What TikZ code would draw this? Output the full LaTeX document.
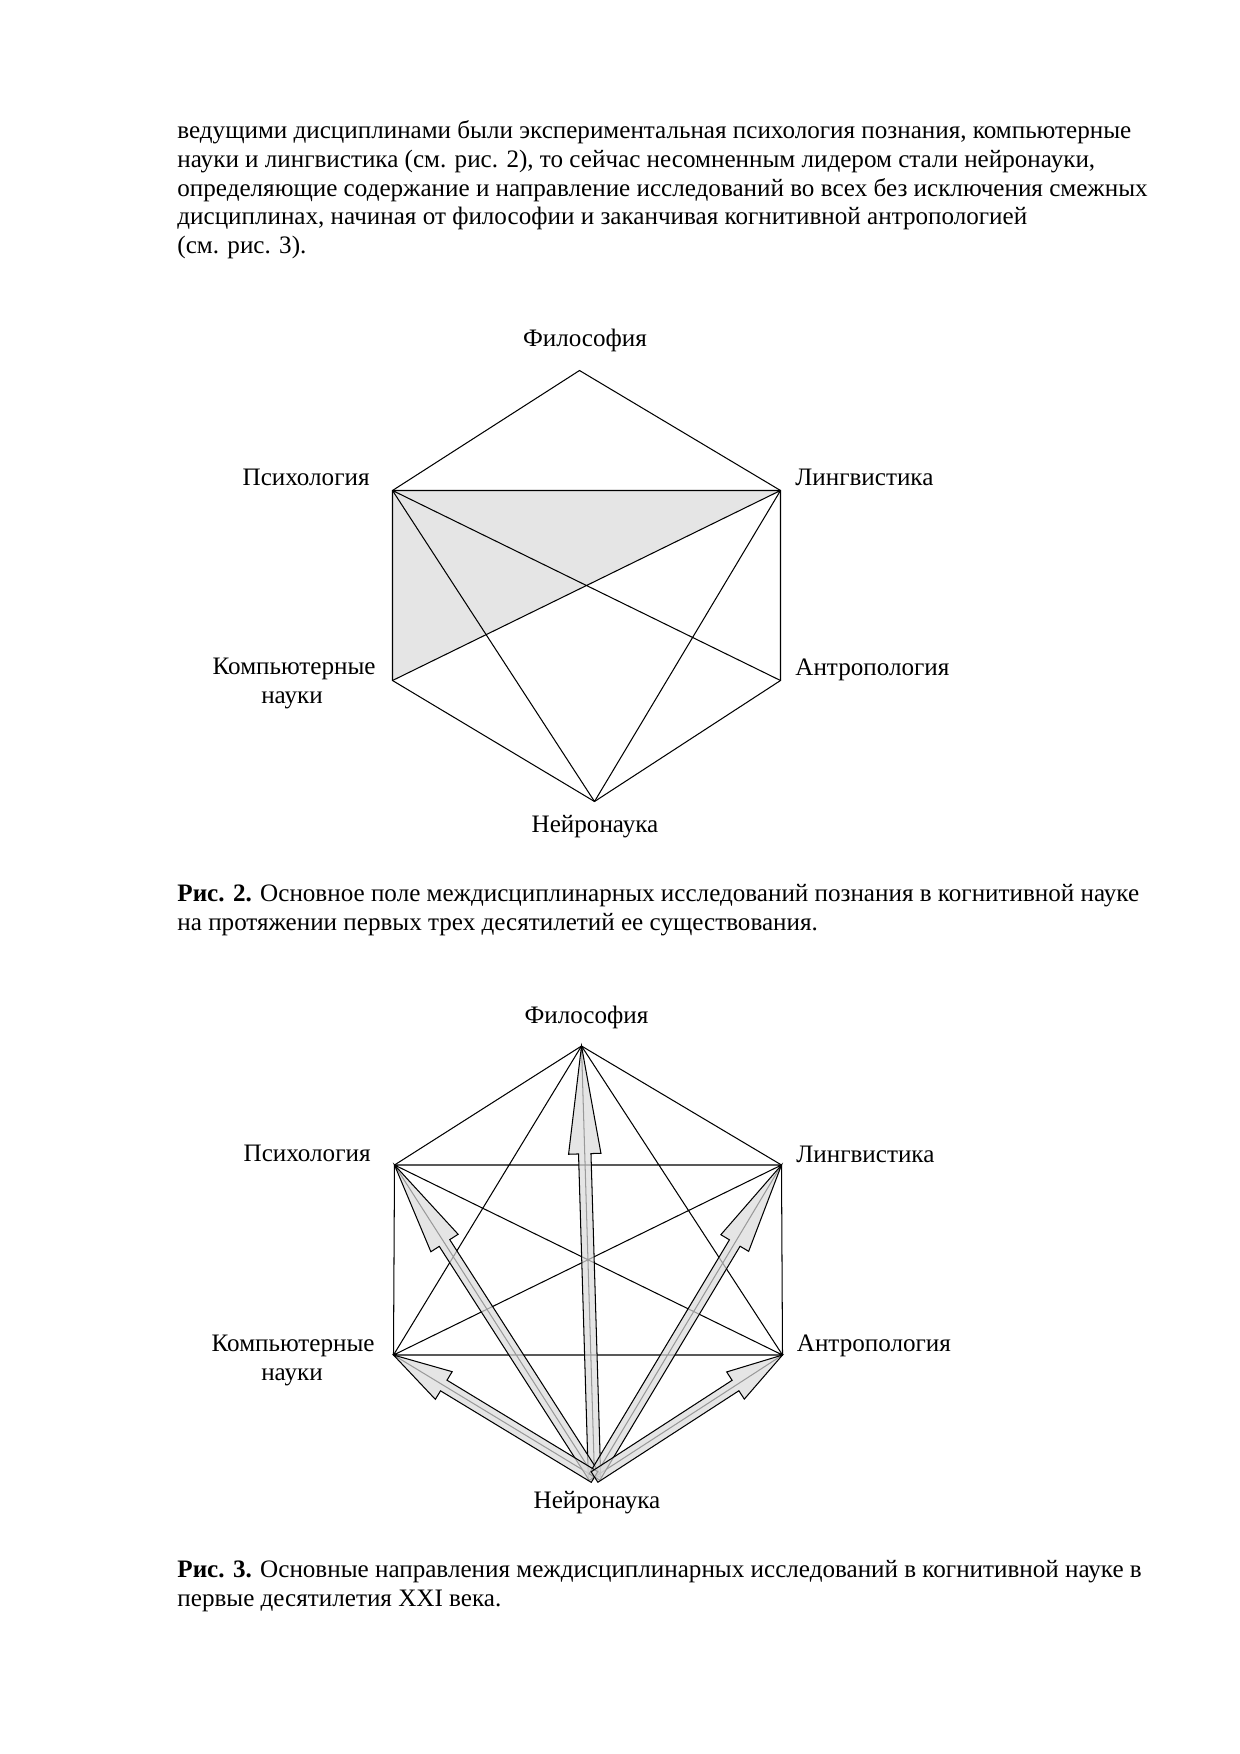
\documentclass[tikz,border=0pt]{standalone}
\usepackage{fontspec}
\setmainfont{Liberation Serif}
\usetikzlibrary{calc}

\begin{document}
\begin{tikzpicture}[x=0.16935mm,y=-0.16935mm,
  every node/.style={inner sep=0pt,font=\fontsize{12.1}{13.9}\selectfont},
  txt/.style={anchor=base west},
  lab/.style={anchor=base},
  labl/.style={anchor=base east},
  labr/.style={anchor=base west},
  thin/.style={line width=0.5pt},
  blk/.style={draw,line width=0.5pt,fill=gray!28,fill opacity=0.7}]
\useasboundingbox[fill=white] (0,0) rectangle (1240,1754);

\node[txt] (t1) at (177,138.5) {ведущими дисциплинами были экспериментальная психология познания, компьютерные};
\node[txt] (t2) at (177,167) {науки и лингвистика (см. рис. 2), то сейчас несомненным лидером стали нейронауки,};
\node[txt] (t3) at (177,196) {определяющие содержание и направление исследований во всех без исключения смежных};
\node[txt] (t4) at (177,224.5) {дисциплинах, начиная от философии и заканчивая когнитивной антропологией};
\node[txt] (t5) at (177,253) {(см. рис. 3).};

\coordinate (f) at (579.5,370.5);
\coordinate (p) at (392.5,490.5);
\coordinate (l) at (780.5,490.5);
\coordinate (k) at (392.5,680.5);
\coordinate (a) at (780.5,680.5);
\coordinate (n) at (594.5,801.5);
\fill[gray!20] (p) -- (l) -- (k) -- cycle;
\draw[thin] (f) -- (p) -- (k) -- (n) -- (a) -- (l) -- cycle;
\draw[thin] (p) -- (l) (p) -- (a) (k) -- (l) (p) -- (n) (l) -- (n);
\node[lab] (fl) at (585,346.5) {Философия};
\node[labl] (pl) at (370,485) {Психология};
\node[labr] (ll) at (795,485) {Лингвистика};
\node[labl] (kl) at (376,674) {Компьютерные};
\node[lab] (kl2) at (292,703) {науки};
\node[labr] (al) at (795,675) {Антропология};
\node[lab] (nl) at (595,832.5) {Нейронаука};

\node[txt] (c2) at (177,901) {\textbf{Рис. 2.} Основное поле междисциплинарных исследований познания в когнитивной науке};
\node[txt] (c2b) at (177,930) {на протяжении первых трех десятилетий ее существования.};

\coordinate (F) at (581.5,1046);
\coordinate (P) at (394.5,1165);
\coordinate (L) at (781.5,1165);
\coordinate (K) at (393.5,1355);
\coordinate (A) at (782.5,1355);
\coordinate (N) at (594.5,1477);
\draw[thin] (F) -- (P) -- (K) -- (N) -- (A) -- (L) -- cycle;
\draw[thin] (P) -- (L) (K) -- (A) (F) -- (K) (F) -- (A) (P) -- (A) (K) -- (L)
  (P) -- (N) (L) -- (N) (F) -- (N);
\foreach \t in {F,P,L,K,A}
  \draw[blk] ($(N)!3pt!90:(\t)$) -- ($(N)!0.75!(\t)!3pt!90:(\t)$)
    -- ($(N)!0.75!(\t)!7.8pt!90:(\t)$) -- (\t)
    -- ($(N)!0.75!(\t)!7.8pt!-90:(\t)$) -- ($(N)!0.75!(\t)!3pt!-90:(\t)$)
    -- ($(N)!3pt!-90:(\t)$) -- cycle;
\node[lab] (Fl) at (586.5,1023) {Философия};
\node[labl] (Pl) at (371,1161.5) {Психология};
\node[labr] (Ll) at (796,1162) {Лингвистика};
\node[labl] (Kl) at (375,1351) {Компьютерные};
\node[lab] (Kl2) at (292,1380) {науки};
\node[labr] (Al) at (796.5,1351) {Антропология};
\node[lab] (Nl) at (597,1508) {Нейронаука};

\node[txt] (c3) at (177,1577) {\textbf{Рис. 3.} Основные направления междисциплинарных исследований в когнитивной науке в};
\node[txt] (c3b) at (177,1606) {первые десятилетия XXI века.};
\end{tikzpicture}
\end{document}
